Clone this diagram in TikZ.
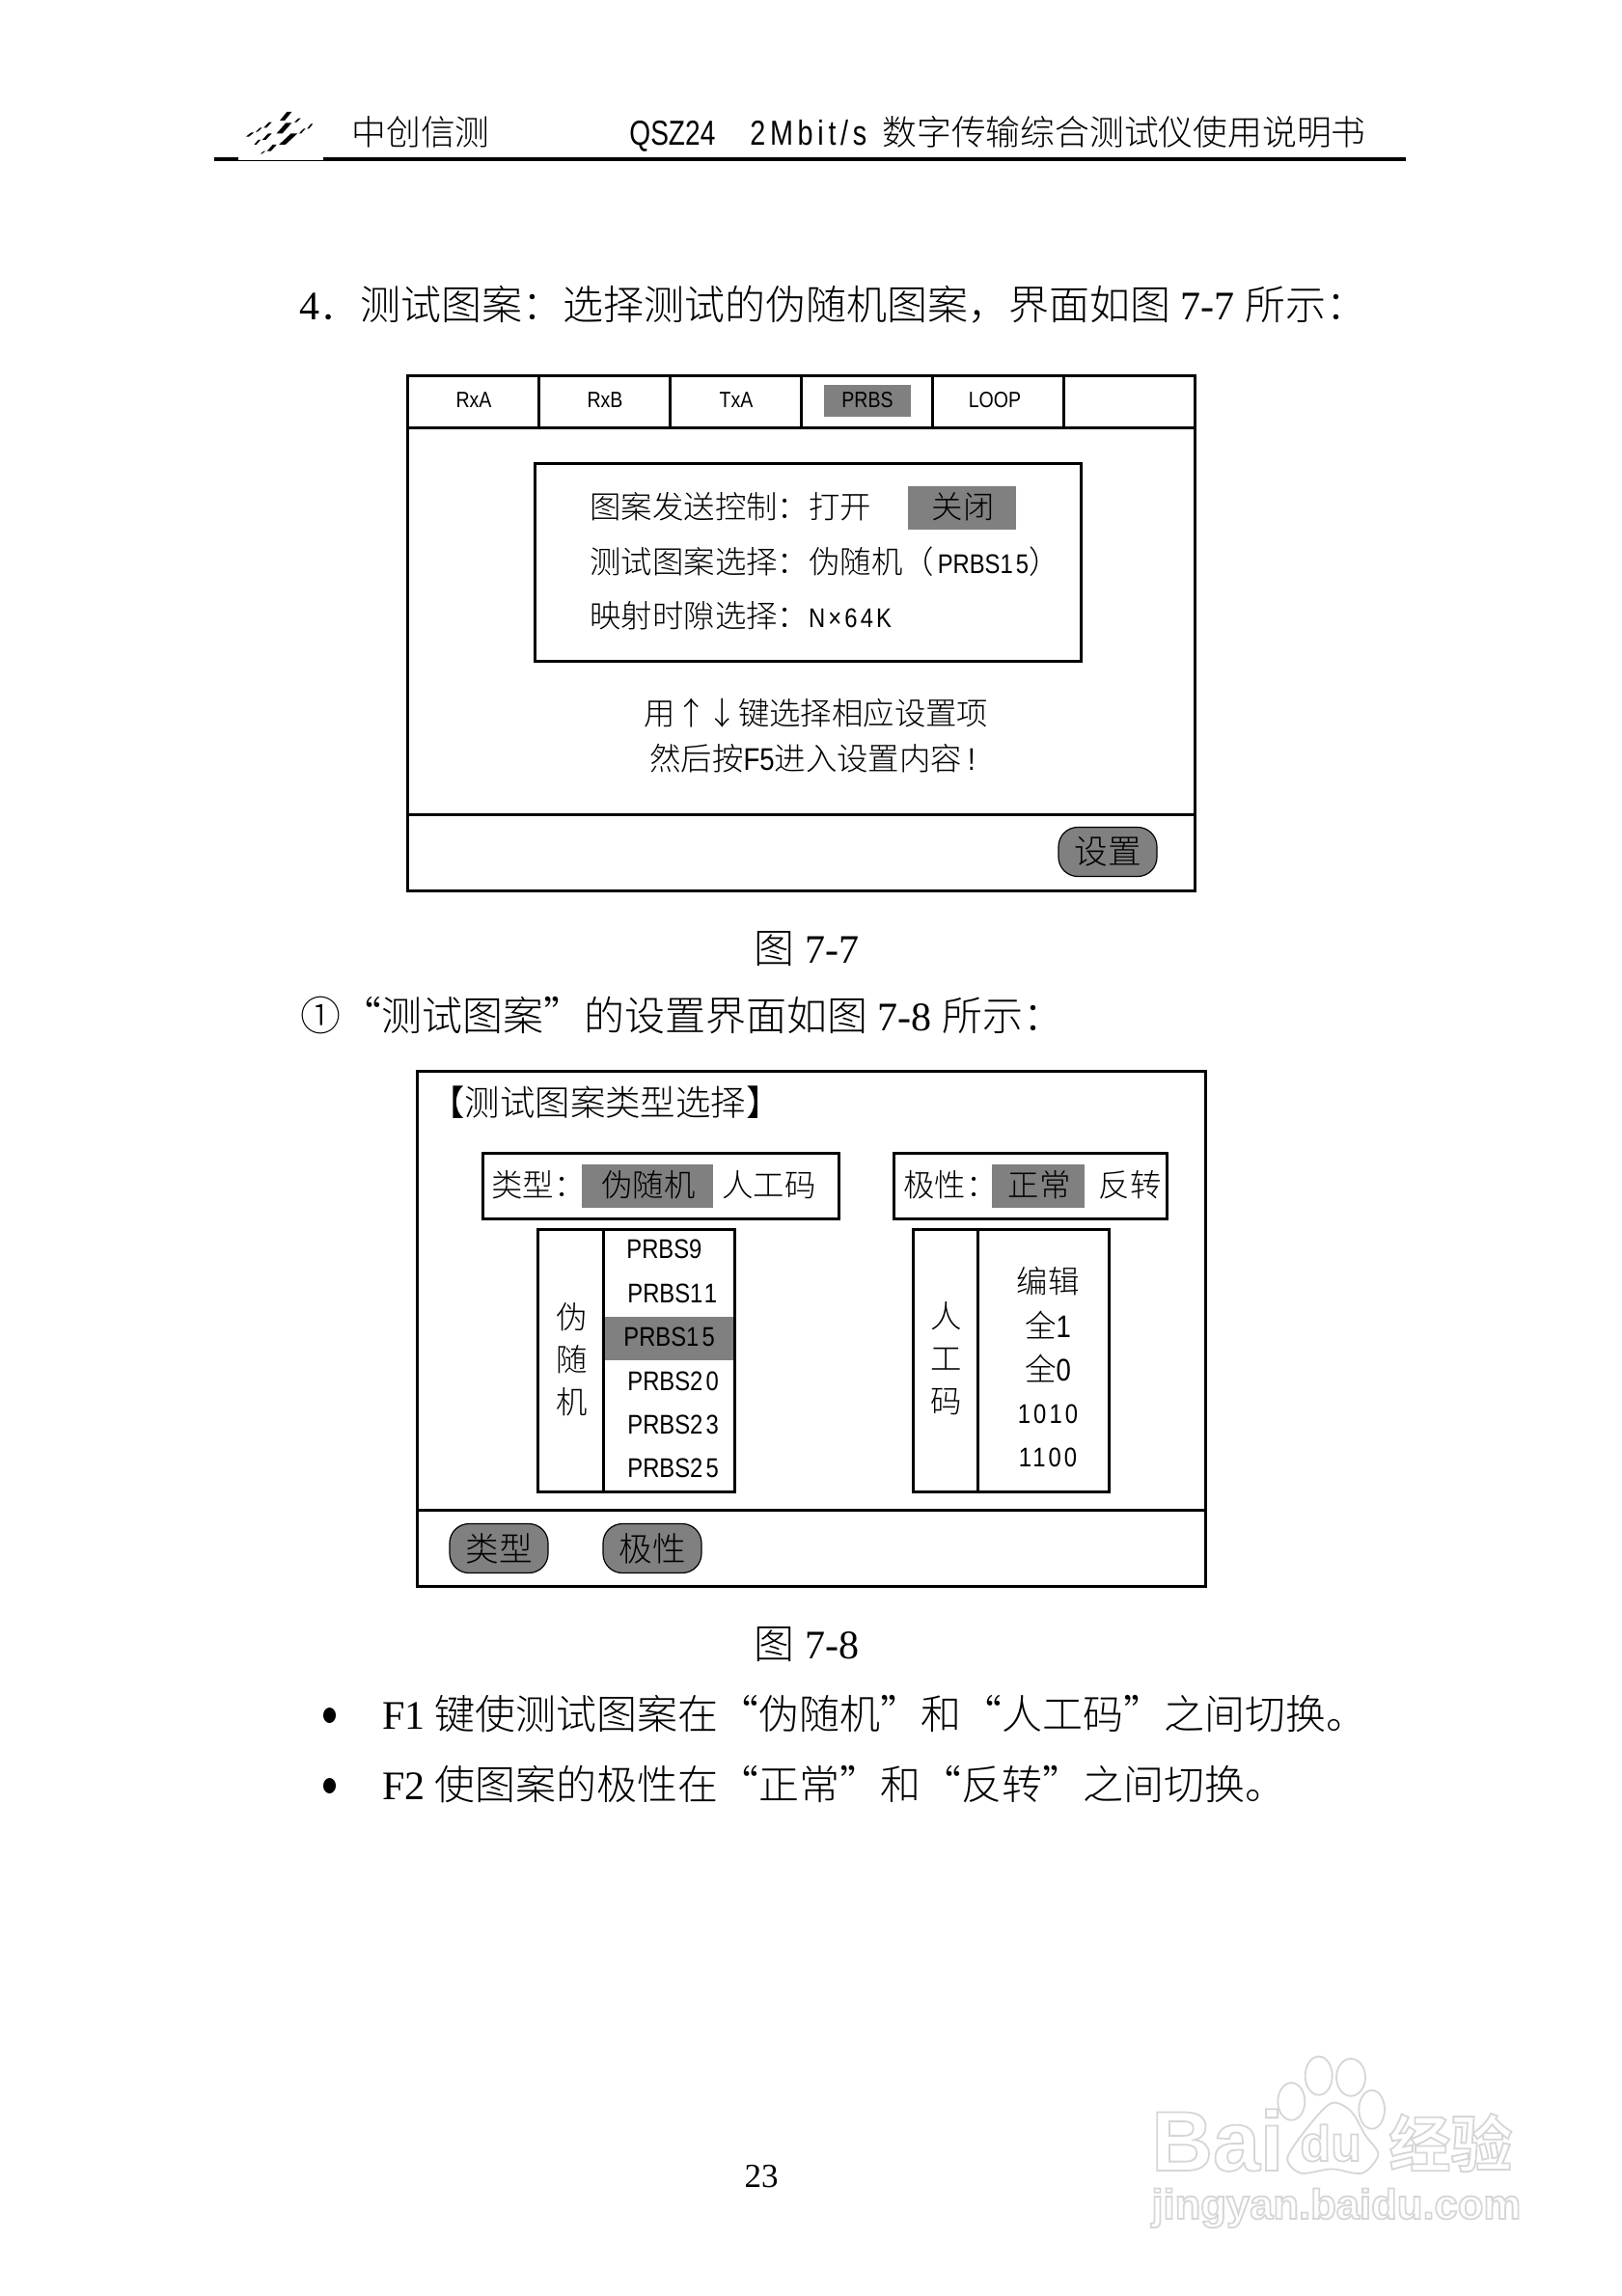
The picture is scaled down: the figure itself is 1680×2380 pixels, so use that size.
\documentclass[tikz,border=0pt]{standalone}
\usepackage{fontspec}
\newfontfamily\cjk{Noto Sans CJK SC Light}
\newfontfamily\tms{Liberation Serif}
\newfontfamily\lat[FakeStretch=0.85]{Liberation Sans}
\newfontfamily\dig[FakeStretch=0.85,LetterSpace=11]{Liberation Sans}
\newfontfamily\hdr[FakeStretch=0.78]{Liberation Sans}
\newfontfamily\hdrwide[FakeStretch=0.8,LetterSpace=13]{Liberation Sans}
\newfontfamily\wmfont{Liberation Sans Bold}
\newfontfamily\wmcjk{Noto Sans CJK SC Bold}
\newcommand{\hollow}{\special{pdf:code 1 Tr 0.9 w 0.84 G}}
\newcommand{\listsize}{\fontsize{14}{17}\selectfont}
\definecolor{shade}{HTML}{808080}
\tikzset{
  every node/.style={inner sep=0pt},
  pagetext/.style={font=\cjk\fontsize{21}{25}\selectfont,text height=18.5pt,text depth=2.5pt},
  headtext/.style={font=\cjk\fontsize{17.9}{21}\selectfont,text height=15.7pt,text depth=2.2pt},
  latinhead/.style={text height=15.7pt,text depth=2.2pt},
  uitext/.style={font=\cjk\fontsize{16.2}{22}\selectfont,text height=14.3pt,text depth=1.9pt},
  tabtext/.style={font=\lat\fontsize{11.5}{14}\selectfont,text height=10.1pt,text depth=1.4pt},
  listtext/.style={font=\lat\listsize,text height=12.3pt,text depth=1.7pt},
  panel/.style={draw,line width=1.5pt},
  hilite/.style={fill=shade},
  softkey/.style={draw,fill=shade,line width=.6pt,rounded corners=10pt,minimum width=51pt,minimum height=25.5pt,font=\cjk\fontsize{17.3}{20}\selectfont},
  stamp/.style={anchor=base west},
}
\begin{document}
\begin{tikzpicture}[x=0.5pt,y=-0.5pt]
\useasboundingbox (0,0) rectangle (1680,2380);
\fill [white] (0,0) rectangle (1680,2380);
% header
\fill [black] (222,163.5) rectangle (1457,167);
\fill [white] (247,163) rectangle (335,165.6);
\begin{scope}[shift={(215,100)},scale=1/3]
\fill (225,75) -- ++(15,0) -- (262,48) -- ++(-15,0) -- cycle;
\fill (270,80) -- ++(7,0) -- (290,68) -- ++(-7,0) -- cycle;
\fill (175,97) -- ++(9,0) -- (200,80) -- ++(-9,0) -- cycle;
\fill (215,115) -- ++(18,0) -- (262,82) -- ++(-18,0) -- cycle;
\fill (285,115) -- ++(6,0) -- (305,100) -- ++(-6,0) -- cycle;
\fill (310,100) -- ++(6,0) -- (328,85) -- ++(-6,0) -- cycle;
\fill (120,125) -- ++(9,0) -- (145,112) -- ++(-9,0) -- cycle;
\fill (150,110) -- ++(6,0) -- (170,97) -- ++(-6,0) -- cycle;
\fill (170,135) -- ++(11,0) -- (200,115) -- ++(-11,0) -- cycle;
\fill (222,150) -- ++(20,0) -- (280,115) -- ++(-20,0) -- cycle;
\fill (145,150) -- ++(7,0) -- (165,135) -- ++(-7,0) -- cycle;
\fill (185,170) -- ++(12,0) -- (215,150) -- ++(-12,0) -- cycle;
\fill (165,178) -- ++(5,0) -- (180,170) -- ++(-5,0) -- cycle;
\end{scope}
\node [headtext,anchor=west] (brand) at (364,137) {中创信测};
\node [latinhead,font=\hdr\fontsize{18}{21}\selectfont,anchor=west] (model) at (652,137) {QSZ24};
\node [latinhead,font=\hdrwide\fontsize{18}{21}\selectfont,anchor=west] (rate) at (777,137) {2Mbit/s};
\node [headtext,anchor=west] (title) at (914,137) {数字传输综合测试仪使用说明书};
% heading
\node [pagetext,anchor=west] (item4) at (310,316) {{\tms 4}．测试图案：选择测试的伪随机图案，界面如图{\tms\ 7-7\ }所示：};
% figure 7-7
\fill [hilite] (854,399.5) rectangle (944,432.5);
\fill [hilite] (941,503.5) rectangle (1053,548.5);
\draw [panel] (422,390) rectangle (1238,923);
\draw [panel] (422,443.5) -- (1238,443.5);
\draw [panel] (422,844) -- (1238,844);
\draw [panel] (558,390) -- (558,443.5);
\draw [panel] (694,390) -- (694,443.5);
\draw [panel] (830,390) -- (830,443.5);
\draw [panel] (966,390) -- (966,443.5);
\draw [panel] (1102,390) -- (1102,443.5);
\draw [panel] (554,481) rectangle (1120,685);
\node [tabtext] (tab1) at (491,414) {RxA};
\node [tabtext] (tab2) at (627,414) {RxB};
\node [tabtext] (tab3) at (763,414) {TxA};
\node [tabtext] (tab4) at (899,414) {PRBS};
\node [tabtext] (tab5) at (1031,414) {LOOP};
\node [uitext,anchor=west] (send) at (611,525) {图案发送控制：打开};
\node [uitext] (close) at (998,525) {关闭};
\node [uitext,anchor=west] (select) at (611,582) {测试图案选择：伪随机（{\lat\listsize\hspace{2pt}PRBS}{\dig\listsize 15}）};
\node [uitext,anchor=west] (slot) at (611,638) {映射时隙选择：{\dig\listsize N×64K}};
\node [uitext] (hint1) at (846,739) {用↑↓键选择相应设置项};
\node [uitext] (hint2) at (842,786) {然后按{\lat F5}进入设置内容{\lat\hspace{3pt}!}};
\node [softkey] (setkey) at (1148,883) {设置};
\node [pagetext] (cap7) at (836,982) {图{\tms\ 7-7}};
% figure 7-8
\node [pagetext,anchor=west] (item1) at (311,1052) {①“测试图案”的设置界面如图{\tms\ 7-8\ }所示：};
\fill [hilite] (603,1207) rectangle (739,1252);
\fill [hilite] (1028,1207) rectangle (1124,1252);
\fill [hilite] (625,1365) rectangle (761,1410);
\draw [panel] (432.5,1110) rectangle (1249,1644.5);
\draw [panel] (432.5,1565) -- (1249,1565);
\draw [panel] (500.5,1195) rectangle (869,1263.5);
\draw [panel] (926,1195) rectangle (1209,1263.5);
\draw [panel] (557,1274) rectangle (761.5,1546);
\draw [panel] (625,1274) -- (625,1546);
\draw [panel] (946,1274) rectangle (1149,1546);
\draw [panel] (1013,1274) -- (1013,1546);
\node [font=\cjk\fontsize{18.2}{22}\selectfont,text height=16pt,text depth=2.2pt,anchor=west] (head8) at (445,1143) {【测试图案类型选择】};
\node [uitext,anchor=west] (kind) at (509,1228) {类型：};
\node [uitext] (prand) at (672,1228) {伪随机};
\node [uitext] (manual) at (797,1228) {人工码};
\node [uitext,anchor=west] (polar) at (936,1228) {极性：};
\node [uitext] (normal) at (1077,1228) {正常};
\node [uitext] (invert) at (1171,1228) {反转};
\node [font=\cjk\fontsize{16.2}{22}\selectfont,align=center] (prandv) at (592.5,1409) {伪\\随\\机};
\node [listtext,anchor=west] (prbs9) at (649,1294) {PRBS9};
\node [listtext,anchor=west] (prbs11) at (650,1340) {PRBS{\dig\listsize 11}};
\node [listtext,anchor=west] (prbs15) at (646,1385) {PRBS{\dig\listsize 15}};
\node [listtext,anchor=west] (prbs20) at (650,1431) {PRBS{\dig\listsize 20}};
\node [listtext,anchor=west] (prbs23) at (650,1476) {PRBS{\dig\listsize 23}};
\node [listtext,anchor=west] (prbs25) at (650,1521) {PRBS{\dig\listsize 25}};
\node [font=\cjk\fontsize{16.2}{22}\selectfont,align=center] (manualv) at (980.5,1408) {人\\工\\码};
\node [uitext] (edit) at (1086,1328) {编辑};
\node [uitext] (ones) at (1086,1374) {全{\lat 1}};
\node [uitext] (zeros) at (1086,1419) {全{\lat 0}};
\node [listtext,font=\dig\listsize] (alt1) at (1086,1465) {1010};
\node [listtext,font=\dig\listsize] (alt2) at (1086,1510) {1100};
\node [softkey] (kindkey) at (517,1605) {类型};
\node [softkey] (polarkey) at (676,1605) {极性};
\node [pagetext] (cap8) at (836,1703) {图{\tms\ 7-8}};
% notes
\fill (341.5,1778) ellipse (6.5 and 8);
\fill (341.5,1851) ellipse (6.5 and 8);
\node [pagetext,anchor=west] (note1) at (396,1776) {{\tms F1} 键使测试图案在“伪随机”和“人工码”之间切换。};
\node [pagetext,anchor=west] (note2) at (396,1849) {{\tms F2} 使图案的极性在“正常”和“反转”之间切换。};
\node [font=\tms\fontsize{17.5}{21}\selectfont,text height=12pt,text depth=0pt] (pageno) at (789,2255) {23};
% watermark
\begin{scope}[shift={(1100,2100)},scale=1/3,draw=black!16,line width=.9pt]
\draw (715,235) ellipse (42 and 58);
\draw (800,155) ellipse (42 and 60);
\draw (900,160) ellipse (45 and 58);
\draw (965,260) ellipse (40 and 60);
\draw plot [smooth cycle] coordinates {(840,240) (900,265) (945,340) (985,400) (935,458) (840,445) (745,458) (703,410) (770,310)};
\end{scope}
\node [stamp,font=\wmfont\fontsize{44}{50}\selectfont] (bai) at (1193,2250) {\hollow Bai};
\node [stamp,font=\wmfont\fontsize{26}{30}\selectfont] (du) at (1347,2240) {\hollow du};
\node [stamp,font=\wmcjk\fontsize{32}{36}\selectfont] (jy) at (1439,2246) {\hollow 经验};
\node [stamp,font=\wmfont\fontsize{21.8}{27}\selectfont] (site) at (1193,2300) {\hollow jingyan.baidu.com};
\end{tikzpicture}
\end{document}
